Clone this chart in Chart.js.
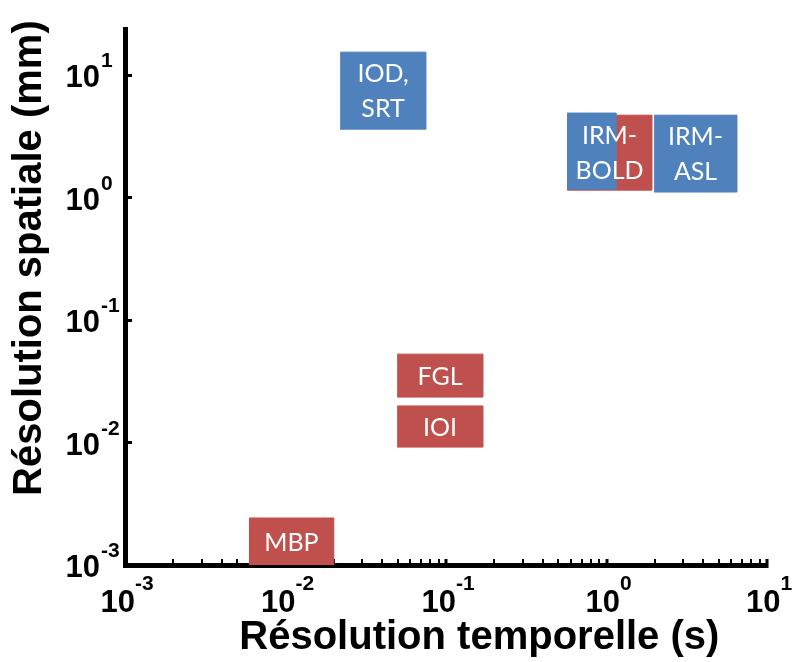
<!DOCTYPE html>
<html>
<head>
<meta charset="utf-8">
<script src="https://cdn.jsdelivr.net/npm/chart.js@4/dist/chart.umd.min.js"></script>
<style>
html, body { margin: 0; padding: 0; background: #ffffff; }
#wrap { width: 792px; height: 662px; position: relative; }
</style>
</head>
<body>
<div id="wrap"><canvas id="c"></canvas></div>
<script>
// ---- data ----
const techniques = ['IOD, SRT', 'IRM-BOLD (bleu)', 'IRM-BOLD (rouge)', 'IRM-ASL', 'FGL', 'IOI', 'MBP'];
const boxText    = [['IOD,', 'SRT'], [], ['IRM-', 'BOLD'], ['IRM-', 'ASL'], ['FGL'], ['IOI'], ['MBP']];
const tempMin    = [0.0219, 0.568, 0.568, 1.98, 0.0496, 0.0496, 0.00592];   // s
const tempMax    = [0.0750, 1.15,  1.92,  6.50, 0.170,  0.170,  0.0200];    // s
const spatMin    = [3.62,   1.17,  1.15,  1.11, 0.0235, 0.00918, 0.001];    // mm
const spatMax    = [15.4,   4.90,  4.71,  4.71, 0.0527, 0.0199, 0.00242];   // mm
const groupColor = ['bleu', 'bleu', 'rouge', 'bleu', 'rouge', 'rouge', 'rouge'];

const xTickValues = [0.001, 0.01, 0.1, 1, 10];
const xTickExp    = ['-3', '-2', '-1', '0', '1'];
const xMinorTicks = [0.002, 0.003, 0.004, 0.005, 0.006, 0.007, 0.008, 0.009,
                     0.02, 0.03, 0.04, 0.05, 0.06, 0.07, 0.08, 0.09,
                     0.2, 0.3, 0.4, 0.5, 0.6, 0.7, 0.8, 0.9,
                     2, 3, 4, 5, 6, 7, 8, 9];
const yTickValues = [0.001, 0.01, 0.1, 1, 10];
const yTickExp    = ['-3', '-2', '-1', '0', '1'];

const xTitle = 'Résolution temporelle (s)';
const yTitle = 'Résolution spatiale (mm)';

// ---- styling ----
const COLORS = { bleu: '#4F81BD', rouge: '#C0504D' };
const AXIS_FONT = "'Liberation Sans', Arial, Helvetica, sans-serif";
const BOX_FONT = "Lato, 'Open Sans', sans-serif";

const datasets = techniques.map((name, i) => ({
  label: name,
  data: [
    { x: tempMin[i], y: spatMin[i] },
    { x: tempMax[i], y: spatMin[i] },
    { x: tempMax[i], y: spatMax[i] },
    { x: tempMin[i], y: spatMax[i] }
  ],
  showLine: true,
  fill: 'shape',
  backgroundColor: COLORS[groupColor[i]],
  borderColor: COLORS[groupColor[i]],
  borderWidth: 1,
  pointRadius: 0,
  pointHoverRadius: 0,
  tension: 0
}));

const labelsPlugin = {
  id: 'labelsPlugin',
  afterDatasetsDraw(chart) {
    const ctx = chart.ctx;
    const xs = chart.scales.x, ys = chart.scales.y;
    ctx.save();
    ctx.fillStyle = '#ffffff';
    ctx.font = '25px ' + BOX_FONT;
    ctx.textAlign = 'center';
    ctx.textBaseline = 'middle';
    techniques.forEach((t, i) => {
      const lines = boxText[i];
      if (!lines.length) return;
      const cx = (xs.getPixelForValue(tempMin[i]) + xs.getPixelForValue(tempMax[i])) / 2;
      const cy = (ys.getPixelForValue(spatMin[i]) + ys.getPixelForValue(spatMax[i])) / 2;
      const lh = 35;
      lines.forEach((ln, k) => {
        ctx.fillText(ln, cx, cy + (k - (lines.length - 1) / 2) * lh + 1);
      });
    });
    ctx.restore();
  },
  afterDraw(chart) {
    const ctx = chart.ctx;
    const xs = chart.scales.x, ys = chart.scales.y;
    const base = 'bold 31px ' + AXIS_FONT;
    const sup = 'bold 21px ' + AXIS_FONT;
    ctx.save();
    ctx.fillStyle = '#000000';
    ctx.textBaseline = 'alphabetic';
    ctx.textAlign = 'left';
    // x axis tick labels
    xTickValues.forEach((v, i) => {
      const px = xs.getPixelForValue(v);
      ctx.font = base; const w1 = ctx.measureText('10').width;
      ctx.font = sup;  const w2 = ctx.measureText(xTickExp[i]).width;
      const x0 = px - (w1 + w2) / 2 + 2;
      ctx.font = base; ctx.fillText('10', x0, xs.top + 47);
      ctx.font = sup;  ctx.fillText(xTickExp[i], x0 + w1, xs.top + 25);
    });
    // y axis tick labels
    yTickValues.forEach((v, i) => {
      const py = ys.getPixelForValue(v);
      ctx.font = base; const w1 = ctx.measureText('10').width;
      ctx.fillText('10', 100 - w1, py + 12);
      ctx.font = sup;
      ctx.fillText(yTickExp[i], 101, py - 8);
    });
    ctx.restore();
  }
};

new Chart(document.getElementById('c'), {
  type: 'scatter',
  data: { datasets },
  options: {
    responsive: true,
    maintainAspectRatio: false,
    animation: false,
    events: [],
    devicePixelRatio: 1,
    layout: { padding: { top: 29, right: 25, left: 0, bottom: 0 } },
    plugins: {
      legend: { display: false },
      tooltip: { enabled: false },
      title: { display: false }
    },
    scales: {
      x: {
        type: 'logarithmic',
        position: 'bottom',
        min: 0.001,
        max: 10,
        afterBuildTicks(scale) {
          scale.ticks = xTickValues.concat(xMinorTicks).sort((a, b) => a - b).map(v => ({ value: v }));
        },
        grid: {
          display: true,
          drawOnChartArea: false,
          drawTicks: true,
          tickLength: -6,
          tickColor: '#000000',
          color: '#000000',
          lineWidth: 2,
          tickWidth: c => (c.tick && xTickValues.includes(c.tick.value)) ? 3 : 2
        },
        border: { display: true, width: 5, color: '#000000' },
        ticks: { display: false },
        afterFit(scale) { scale.height = 97; },
        title: {
          display: true,
          text: '      ' + xTitle,
          color: '#000000',
          font: { family: AXIS_FONT, size: 40, weight: 'bold' },
          padding: { top: 0, bottom: 0 }
        }
      },
      y: {
        type: 'logarithmic',
        position: 'left',
        min: 0.001,
        max: 23.8,
        afterBuildTicks(scale) {
          scale.ticks = yTickValues.map(v => ({ value: v }));
        },
        grid: {
          display: true,
          drawOnChartArea: false,
          drawTicks: true,
          tickLength: -7,
          tickColor: '#000000',
          color: '#000000',
          lineWidth: 3,
          tickWidth: 3
        },
        border: { display: true, width: 5, color: '#000000' },
        ticks: { display: false },
        afterFit(scale) { scale.width = 125; },
        title: {
          display: true,
          text: '       ' + yTitle,
          color: '#000000',
          font: { family: AXIS_FONT, size: 40, weight: 'bold' },
          padding: { top: 6, bottom: 0 }
        }
      }
    }
  },
  plugins: [labelsPlugin]
});
</script>
</body>
</html>
